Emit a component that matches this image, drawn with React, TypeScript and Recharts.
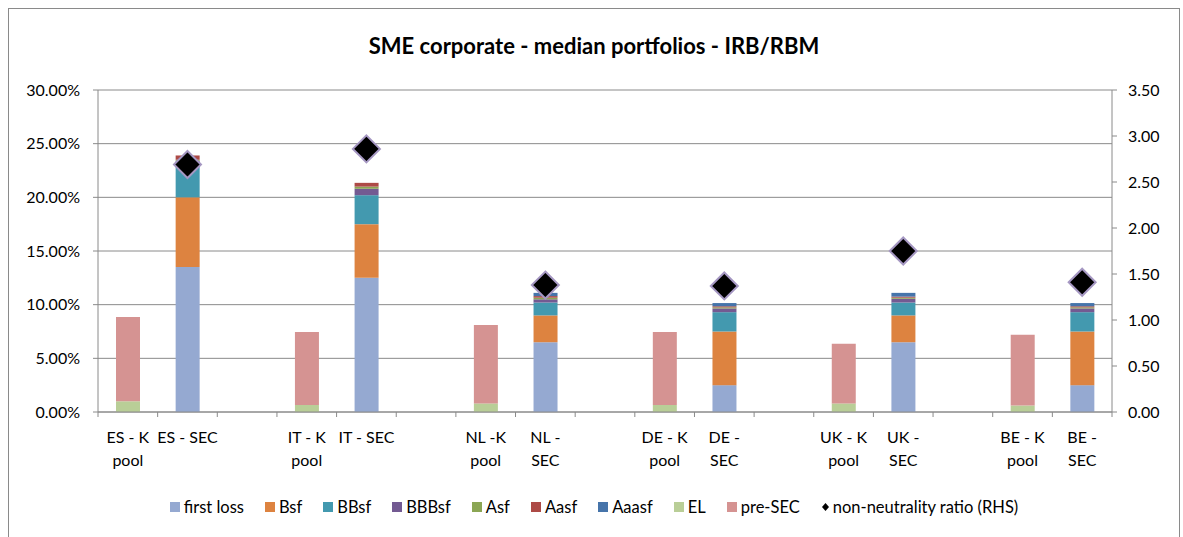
import React from "react";
import {Bar, CartesianGrid, ComposedChart, Legend, Line, XAxis, YAxis} from "recharts";

// categories (blank slots separate the countries)
const categories = ["ES-K", "ES-SEC", "gap1", "IT-K", "IT-SEC", "gap2", "NL-K", "NL-SEC", "gap3",
    "DE-K", "DE-SEC", "gap4", "UK-K", "UK-SEC", "gap5", "BE-K", "BE-SEC"];
const tickLabels = [["ES - K", "pool"], ["ES - SEC"], [], ["IT - K", "pool"], ["IT - SEC"], [],
    ["NL -K", "pool"], ["NL -", "SEC"], [], ["DE - K", "pool"], ["DE -", "SEC"], [],
    ["UK - K", "pool"], ["UK -", "SEC"], [], ["BE - K", "pool"], ["BE -", "SEC"]];

// series values, in % (null = no bar)
const firstLoss = [null, 13.5, null, null, 12.5, null, null, 6.5, null, null, 2.5, null, null, 6.5, null, null, 2.5];
const bsf = [null, 6.5, null, null, 5.0, null, null, 2.5, null, null, 5.0, null, null, 2.5, null, null, 5.0];
const bbsf = [null, 3.2, null, null, 2.7, null, null, 1.2, null, null, 1.8, null, null, 1.2, null, null, 1.8];
const bbbsf = [null, 0.2, null, null, 0.6, null, null, 0.3, null, null, 0.35, null, null, 0.35, null, null, 0.35];
const asf = [null, 0.1, null, null, 0.2, null, null, 0.15, null, null, 0.1, null, null, 0.1, null, null, 0.1];
const aasf = [null, 0.4, null, null, 0.35, null, null, 0.15, null, null, 0.1, null, null, 0.1, null, null, 0.1];
const aaasf = [null, 0, null, null, 0, null, null, 0.3, null, null, 0.3, null, null, 0.35, null, null, 0.3];
const el = [1.0, null, null, 0.65, null, null, 0.8, null, null, 0.65, null, null, 0.8, null, null, 0.6, null];
const preSec = [7.85, null, null, 6.8, null, null, 7.3, null, null, 6.8, null, null, 5.55, null, null, 6.6, null];
const ratio = [null, 2.69, null, null, 2.86, null, null, 1.38, null, null, 1.37, null, null, 1.75, null, null, 1.41];

const leftTicks = [0, 5, 10, 15, 20, 25, 30];
const rightTicks = [0, 0.5, 1, 1.5, 2, 2.5, 3, 3.5];

const series = [
    {key: "firstLoss", name: "first loss", color: "#95A9D1"},
    {key: "bsf", name: "Bsf", color: "#DD8340"},
    {key: "bbsf", name: "BBsf", color: "#4399AF"},
    {key: "bbbsf", name: "BBBsf", color: "#735A92"},
    {key: "asf", name: "Asf", color: "#8BA654"},
    {key: "aasf", name: "Aasf", color: "#AD4A46"},
    {key: "aaasf", name: "Aaasf", color: "#4674AA"},
    {key: "el", name: "EL", color: "#B9CE97"},
    {key: "preSec", name: "pre-SEC", color: "#D59392"},
];

const data = categories.map((cat, i) => ({
    cat,
    firstLoss: firstLoss[i], bsf: bsf[i], bbsf: bbsf[i], bbbsf: bbbsf[i], asf: asf[i],
    aasf: aasf[i], aaasf: aaasf[i], el: el[i], preSec: preSec[i], ratio: ratio[i],
}));

const FONT = "Lato, 'Open Sans', sans-serif";
const AXIS = "#8a8a8a";
const W = 1170;
const H = 528;
const PLOT_LEFT = 89;
const PLOT_RIGHT = 1103;
const BAND = (PLOT_RIGHT - PLOT_LEFT) / categories.length;

function XTick(props: any) {
    const {x, y, index} = props;
    const lines = tickLabels[index] ?? [];
    return (
        <g>
            {index === 0 && <line x1={x - BAND / 2} x2={x - BAND / 2} y1={y} y2={y + 5} stroke={AXIS}/>}
            <line x1={x + BAND / 2} x2={x + BAND / 2} y1={y} y2={y + 5} stroke={AXIS}/>
            {lines.map((l: string, i: number) => (
                <text key={i} x={x} y={y + 25 + i * 23} dy="0.35em" textAnchor="middle"
                      fontSize={16} fontFamily={FONT} fill="#000">{l}</text>
            ))}
        </g>
    );
}

function Diamond(props: any) {
    const {cx, cy, value, index} = props;
    if (value == null || cy == null) return <g key={index}/>;
    const r = 13.5;
    return (
        <polygon key={index}
                 points={`${cx},${cy - r} ${cx + r},${cy} ${cx},${cy + r} ${cx - r},${cy}`}
                 fill="#000" stroke="#A597C2" strokeWidth={2}/>
    );
}

function LegendBox() {
    return (
        <div style={{display: "flex", justifyContent: "center", alignItems: "center",
            fontFamily: FONT, fontSize: 16.5, color: "#000", lineHeight: "20px"}}>
            {series.map(s => (
                <span key={s.key} style={{display: "flex", alignItems: "center", marginRight: 21}}>
                    <span style={{width: 10, height: 10, background: s.color, marginRight: 4, display: "inline-block"}}/>
                    {s.name}
                </span>
            ))}
            <span style={{display: "flex", alignItems: "center"}}>
                <svg width={9} height={12} style={{marginRight: 3}}>
                    <polygon points="4.5,2 8,6 4.5,10 1,6" fill="#000"/>
                </svg>
                non-neutrality ratio (RHS)
            </span>
        </div>
    );
}

export default function App() {
    return (
        <>
            <style>{`body{margin:0;overflow:hidden}`}</style>
            <div style={{position: "absolute", left: 8, top: 8, width: W + 2, height: 545, boxSizing: "border-box",
                borderLeft: `1px solid ${AXIS}`, borderTop: `1px solid ${AXIS}`, borderRight: `1px solid ${AXIS}`,
                background: "#fff"}}>
                <div style={{position: "absolute", left: 0, top: 23, width: W, textAlign: "center",
                    fontFamily: FONT, fontWeight: 700, fontSize: 22, color: "#000"}}>
                    SME corporate - median portfolios - IRB/RBM
                </div>
                <ComposedChart width={W} height={H} data={data} barSize={24}
                               margin={{top: 81, right: 0, left: 0, bottom: 65}}>
                    <CartesianGrid yAxisId="left" vertical={false} stroke={AXIS} strokeWidth={1}/>
                    <XAxis dataKey="cat" interval={0} height={60} tickLine={false} tickSize={0} tickMargin={0}
                           axisLine={{stroke: AXIS}} tick={<XTick/>}/>
                    <YAxis yAxisId="left" domain={[0, 30]} ticks={leftTicks} width={89} tickSize={5} tickMargin={13}
                           interval={0} axisLine={{stroke: AXIS}} tickLine={{stroke: AXIS}}
                           tick={{fill: "#000", fontSize: 16, fontFamily: FONT}}
                           tickFormatter={(v: number) => `${v.toFixed(2)}%`}/>
                    <YAxis yAxisId="right" orientation="right" domain={[0, 3.5]} ticks={rightTicks} width={67}
                           tickSize={5} tickMargin={11} interval={0} axisLine={{stroke: AXIS}} tickLine={{stroke: AXIS}}
                           tick={{fill: "#000", fontSize: 16, fontFamily: FONT, textAnchor: "start"}}
                           tickFormatter={(v: number) => v.toFixed(2)}/>
                    {series.map(s => (
                        <Bar key={s.key} yAxisId="left" dataKey={s.key} name={s.name} stackId="a"
                             fill={s.color} isAnimationActive={false}/>
                    ))}
                    <Line yAxisId="right" dataKey="ratio" name="non-neutrality ratio (RHS)" stroke="none"
                          dot={(p: any) => <Diamond {...p}/>} activeDot={false} isAnimationActive={false}/>
                    <Legend verticalAlign="middle" align="center" wrapperStyle={{top: 488, left: 0}}
                            content={() => <LegendBox/>}/>
                </ComposedChart>
            </div>
        </>
    );
}
